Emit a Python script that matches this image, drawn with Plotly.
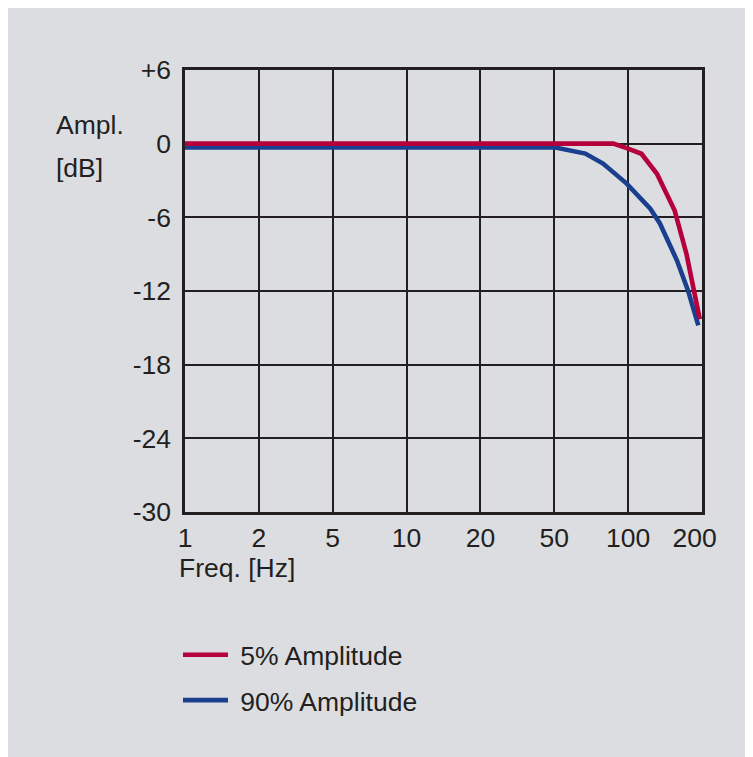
import plotly.graph_objects as go

# Frequency axis: equally spaced categories (position index 0..7)
freq_labels = ["1", "2", "5", "10", "20", "50", "100", "200\u00a0\u00a0"]
freq_positions = [0, 1, 2, 3, 4, 5, 6, 7]

ampl_ticks = [6, 0, -6, -12, -18, -24, -30]
ampl_labels = ["+6", "0", "-6", "-12", "-18", "-24", "-30"]

# 5% amplitude response (x in frequency-scale position units, y in dB)
red_x = [0, 5.80, 5.99, 6.18, 6.39, 6.50, 6.63, 6.79, 6.97]
red_y = [0, 0, -0.38, -0.82, -2.45, -3.8, -5.45, -8.98, -14.3]

# 90% amplitude response
blue_x = [0, 5.00, 5.42, 5.66, 5.98, 6.30, 6.43, 6.66, 6.81, 6.95]
blue_y = [-0.3, -0.3, -0.81, -1.62, -3.25, -5.3, -6.5, -9.5, -11.95, -14.8]

RED = "#b5003c"
BLUE = "#1a3f8f"
INK = "#231f20"
GRAY = "#dcdde0"
FONT = "Liberation Sans, Arial, Helvetica, sans-serif"
FS = 26.5

fig = go.Figure()
fig.add_trace(go.Scatter(
    x=blue_x, y=blue_y, mode="lines", name="\u00a090% Amplitude",
    line=dict(color=BLUE, width=4.6), legendrank=2, legendgroup="b",
))
fig.add_trace(go.Scatter(
    x=red_x, y=red_y, mode="lines", name="\u00a05% Amplitude",
    line=dict(color=RED, width=4.6), legendrank=1, legendgroup="a",
))

W, H = 745, 749
L, R, T, B = 177, 51, 62, 245
pw, ph = W - L - R, H - T - B

def px(xp):
    return (xp - L) / pw

def py(yp):
    return (H - B - yp) / ph

fig.update_layout(
    width=W, height=H,
    margin=dict(l=L, r=R, t=T, b=B),
    paper_bgcolor=GRAY,
    plot_bgcolor="rgba(0,0,0,0)",
    font=dict(family=FONT, size=FS, color=INK),
    showlegend=True,
    legend=dict(
        x=px(170), y=py(623), xanchor="left", yanchor="top",
        bgcolor="rgba(0,0,0,0)", font=dict(size=FS, color=INK),
        itemwidth=45, tracegroupgap=8,
    ),
    annotations=[
        dict(text="Ampl.", xref="paper", yref="paper", x=px(46), y=py(117),
             xanchor="left", yanchor="middle", showarrow=False,
             font=dict(size=FS, color=INK)),
        dict(text="[dB]", xref="paper", yref="paper", x=px(46), y=py(160),
             xanchor="left", yanchor="middle", showarrow=False,
             font=dict(size=FS, color=INK)),
        dict(text="Freq. [Hz]", xref="paper", yref="paper", x=px(169), y=py(560),
             xanchor="left", yanchor="middle", showarrow=False,
             font=dict(size=FS, color=INK)),
    ],
)

fig.update_xaxes(
    range=[0, 7], tickmode="array", tickvals=freq_positions, ticktext=freq_labels,
    showgrid=True, gridcolor=INK, gridwidth=2,
    showline=True, linecolor=INK, linewidth=2.5, mirror=True,
    zeroline=False, ticks="", ticklabelstandoff=0,
    tickfont=dict(size=FS, color=INK),
)
fig.update_yaxes(
    range=[-30, 6], tickmode="array", tickvals=ampl_ticks, ticktext=ampl_labels,
    showgrid=True, gridcolor=INK, gridwidth=2,
    showline=True, linecolor=INK, linewidth=2.5, mirror=True,
    zeroline=False, ticks="", ticklabelstandoff=6,
    tickfont=dict(size=FS, color=INK),
)

fig.write_html("out.html")
